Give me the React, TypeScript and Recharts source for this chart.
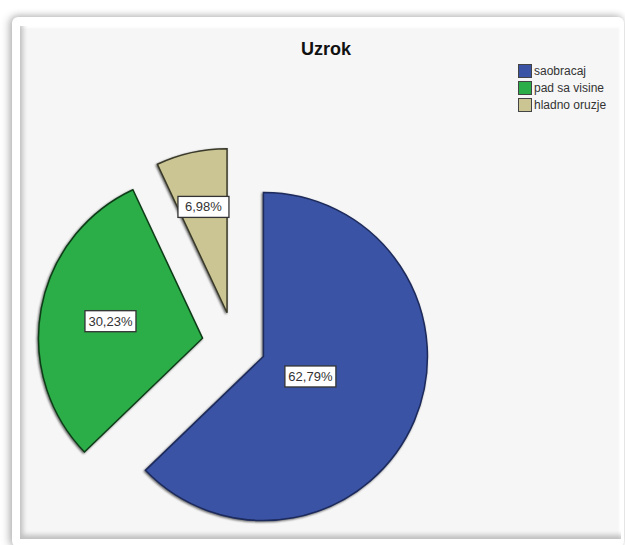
import React from 'react';
import { PieChart, Pie, Cell } from 'recharts';

// data
const categories = ['saobracaj', 'pad sa visine', 'hladno oruzje'];
const shares = [62.79, 30.23, 6.98];
const fills = ['#3a53a4', '#2bad48', '#cbc594'];
const strokes = ['#1c2a5c', '#0d3d17', '#3a3a2a'];

const rows = categories.map((name, i) => ({ name, value: shares[i] }));

const RADIAN = Math.PI / 180;
const CX = 229;
const CY = 339;
const R = 164;
const EXPLODE = 32;
const FONT = '"Liberation Sans", Arial, sans-serif';

// explode offset per slice, along its middle angle (clockwise from 12 o'clock)
const total = shares.reduce((a, b) => a + b, 0);
const offsets = shares.map((v, i) => {
  const before = shares.slice(0, i).reduce((a, b) => a + b, 0);
  const mid = ((before + v / 2) / total) * 2 * Math.PI;
  return { dx: EXPLODE * Math.sin(mid), dy: -EXPLODE * Math.cos(mid) };
});

const fmt = (v: number) => v.toFixed(2).replace('.', ',') + '%';

function makeLabel(only: number) {
  return (props: any) => {
    const { cx, cy, midAngle, startAngle, endAngle, outerRadius, index, value } = props;
    if (index !== only) return null;
    // label sits at the sector centroid
    const half = (Math.abs(endAngle - startAngle) / 2) * RADIAN;
    const dist = (2 * outerRadius * Math.sin(half)) / (3 * half);
    const x = cx + dist * Math.cos(-midAngle * RADIAN);
    const y = cy + dist * Math.sin(-midAngle * RADIAN);
    const w = 51;
    const h = 21;
    return (
      <g>
        <rect x={x - w / 2} y={y - h / 2} width={w} height={h} fill="#ffffff" stroke="#333" strokeWidth={1.3} />
        <text x={x} y={y + 4.5} textAnchor="middle" fontSize={13} fontFamily={FONT} fill="#333">
          {fmt(value)}
        </text>
      </g>
    );
  };
}

export default function App() {
  return (
    <div style={{ position: 'relative', width: 625, height: 545, background: '#fff', overflow: 'hidden' }}>
      <style>{'body{margin:0}'}</style>
      {/* outer frame with shadow */}
      <div
        style={{
          position: 'absolute',
          left: 12,
          top: 17,
          width: 612,
          height: 530,
          background: '#fff',
          borderRadius: 6,
          boxShadow: '-3px 0 8px rgba(0,0,0,0.25), 0 -2px 6px rgba(0,0,0,0.12)',
        }}
      />
      {/* inner bevelled panel */}
      <div
        style={{
          position: 'absolute',
          left: 20,
          top: 26,
          width: 601,
          height: 513,
          background: '#f6f6f6',
          boxShadow: 'inset 5px -6px 5px -2px rgba(0,0,0,0.22), inset -2px 2px 2px rgba(255,255,255,0.9)',
        }}
      />
      <div
        style={{
          position: 'absolute',
          left: 226,
          top: 39,
          width: 200,
          textAlign: 'center',
          fontFamily: FONT,
          fontWeight: 'bold',
          fontSize: 18,
          color: '#111',
        }}
      >
        Uzrok
      </div>
      <div style={{ position: 'absolute', left: 518, top: 62, fontFamily: FONT, fontSize: 12, color: '#333' }}>
        {categories.map((c, i) => (
          <div key={c} style={{ display: 'flex', alignItems: 'center', height: 17 }}>
            <span
              style={{
                display: 'inline-block',
                width: 12,
                height: 12,
                background: fills[i],
                border: '1px solid #444',
                marginRight: 2,
              }}
            />
            {c}
          </div>
        ))}
      </div>
      <div style={{ position: 'absolute', left: 0, top: 0 }}>
        <PieChart width={625} height={545}>
          {shares.map((_, i) => (
            <Pie
              key={i}
              data={rows}
              dataKey="value"
              nameKey="name"
              cx={CX + offsets[i].dx}
              cy={CY + offsets[i].dy}
              outerRadius={R}
              startAngle={90}
              endAngle={-270}
              isAnimationActive={false}
              labelLine={false}
              label={makeLabel(i)}
            >
              {rows.map((r, j) => (
                <Cell
                  key={r.name}
                  fill={j === i ? fills[j] : 'none'}
                  stroke={j === i ? strokes[j] : 'none'}
                  strokeWidth={1.5}
                  style={j === i ? { filter: 'drop-shadow(-1px 1px 1px rgba(0,0,0,0.6))' } : undefined}
                />
              ))}
            </Pie>
          ))}
        </PieChart>
      </div>
    </div>
  );
}
